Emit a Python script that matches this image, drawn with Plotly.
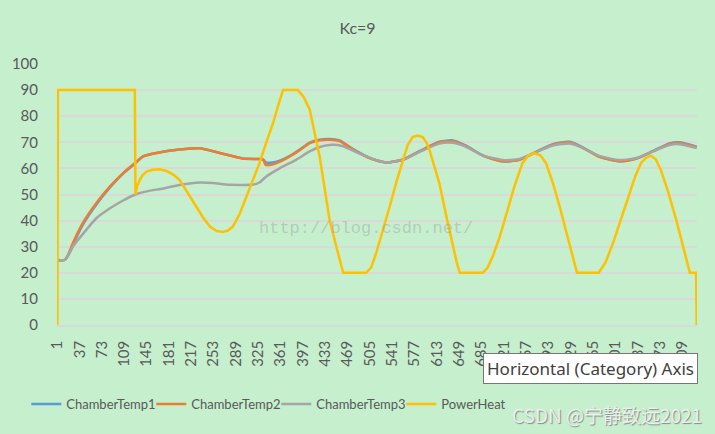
import plotly.graph_objects as go

# category index (x) and value (y)
t1_x = [1, 13, 20, 26, 42, 64, 86, 107, 126, 139, 161, 198, 230, 263, 300, 327, 333, 337, 348,
        362, 376, 392, 408, 424, 440, 456, 478, 504, 531, 558, 585, 617, 639, 660, 687, 719,
        746, 773, 800, 827, 849, 875, 908, 935, 961, 988, 1004, 1032]
t1_y = [24.9, 24.9, 27.3, 30.6, 38.4, 46.2, 52.7, 58.0, 61.8, 64.5, 65.9, 67.2, 67.7, 65.9, 63.8,
        63.6, 63.4, 62.3, 62.3, 63.2, 64.8, 67.2, 69.9, 71.0, 71.3, 70.7, 67.4, 64.1, 62.3,
        63.3, 66.6, 70.2, 70.7, 68.7, 65.0, 62.7, 63.3, 66.3, 69.3, 70.2, 68.0, 64.5, 62.7,
        63.8, 66.6, 69.6, 70.0, 68.3]

t2_x = t1_x
t2_y = [24.9, 24.9, 27.8, 31.3, 39.0, 46.7, 53.1, 58.2, 62.0, 64.6, 65.9, 67.2, 67.7, 65.9, 63.8,
        63.6, 63.4, 61.3, 61.5, 62.8, 64.6, 67.0, 69.7, 70.8, 71.0, 70.5, 67.2, 64.0, 62.3,
        63.3, 66.5, 70.0, 70.4, 68.5, 64.9, 62.7, 63.3, 66.2, 69.1, 70.0, 67.8, 64.4, 62.7,
        63.8, 66.5, 69.4, 69.7, 68.1]

t3_x = [1, 13, 20, 26, 43, 64, 86, 107, 127, 145, 172, 198, 231, 252, 279, 317, 327, 338, 360,
        386, 408, 424, 440, 462, 483, 510, 531, 558, 585, 617, 639, 660, 687, 719, 746, 773,
        800, 827, 849, 875, 908, 935, 961, 988, 1004, 1032]
t3_y = [24.9, 24.9, 27.3, 30.0, 35.1, 40.9, 44.7, 47.7, 50.0, 51.2, 52.3, 53.6, 54.6, 54.4, 53.7,
        53.8, 54.6, 56.9, 60.1, 63.3, 66.5, 68.2, 69.0, 68.5, 66.2, 63.6, 62.3, 63.3, 66.3,
        69.5, 69.8, 68.3, 65.0, 63.2, 63.6, 66.2, 68.8, 69.5, 67.8, 64.8, 63.2, 64.0, 66.5,
        69.0, 69.3, 67.8]

heat_x = [1, 2, 126, 127, 130, 134, 139, 145, 155, 166, 177, 188, 198, 212, 225, 236, 247, 258,
          268, 276, 284, 295, 306, 316, 327, 338, 349, 357, 365, 389, 398, 408, 416, 424, 432,
          440, 451, 462, 499, 507, 515, 526, 537, 548, 558, 566, 574, 582, 590, 596, 601, 609,
          617, 628, 639, 645, 650, 687, 695, 703, 714, 725, 738, 751, 760, 770, 780, 789, 800,
          811, 819, 827, 833, 839, 874, 885, 897, 910, 923, 933, 942, 950, 958, 966, 974, 986,
          999, 1010, 1021, 1031, 1032]
heat_y = [0, 90, 90, 50, 53.5, 55.6, 57.5, 58.8, 59.5, 59.7, 59.0, 57.6, 55.6, 50.5, 45.4, 41.2,
          37.7, 36.0, 35.6, 36.2, 37.7, 42.5, 49.2, 55.5, 62.0, 70.0, 77.4, 84.0, 90, 90, 87.5,
          82.6, 74.0, 64.6, 52.5, 40.3, 30.0, 20, 20, 22.0, 27.4, 36.0, 45.4, 55.0, 63.3, 69.0,
          72.0, 72.6, 72.0, 70.0, 67.2, 61.0, 54.4, 42.0, 30.0, 24.0, 20, 20, 22.0, 26.2, 33.5,
          42.8, 53.0, 62.0, 64.8, 65.9, 65.0, 62.0, 54.5, 45.4, 38.0, 30.5, 25.0, 20, 20, 24.0,
          31.3, 40.5, 50.5, 57.0, 62.0, 64.0, 64.9, 63.5, 59.5, 51.0, 40.3, 30.0, 20, 20, 0]

tick_vals = [1, 37, 73, 109, 145, 181, 217, 253, 289, 325, 361, 397, 433, 469, 505, 541, 577,
             613, 649, 685, 721, 757, 793, 829, 865, 901, 937, 973, 1009]
tick_text = [str(v) for v in tick_vals]

bg = "#C6EFCE"
txt = "#595959"

fig = go.Figure()
fig.add_trace(go.Scatter(x=t1_x, y=t1_y, name="ChamberTemp1", mode="lines",
                         line=dict(color="#5B9BD5", width=2.5, shape="spline", smoothing=0.6)))
fig.add_trace(go.Scatter(x=t2_x, y=t2_y, name="ChamberTemp2", mode="lines",
                         line=dict(color="#ED7D31", width=2.5, shape="spline", smoothing=0.6)))
fig.add_trace(go.Scatter(x=t3_x, y=t3_y, name="ChamberTemp3", mode="lines",
                         line=dict(color="#A5A5A5", width=2.5, shape="spline", smoothing=0.6)))
fig.add_trace(go.Scatter(x=heat_x, y=heat_y, name="PowerHeat", mode="lines",
                         line=dict(color="#FFC000", width=2.5)))

fig.update_layout(
    width=715, height=434,
    paper_bgcolor=bg, plot_bgcolor=bg,
    margin=dict(l=57, r=18, t=64, b=109),
    font=dict(family="Lato", size=15, color=txt),
    title=dict(text="Kc=9", x=0.5, xanchor="center", y=1 - 28 / 434, yanchor="middle",
               yref="container", font=dict(size=16, color=txt)),
    showlegend=True,
    legend=dict(orientation="h", x=-0.048, xanchor="left", y=-0.303, yanchor="middle",
                font=dict(size=13, color=txt), bgcolor="rgba(0,0,0,0)", traceorder="normal",
                entrywidth=80, entrywidthmode="pixels"),
    hovermode=False,
)
fig.update_xaxes(range=[0.5, 1032.5], tickmode="array", tickvals=tick_vals, ticktext=tick_text,
                 tickangle=-90, showgrid=False, zeroline=False, showline=True,
                 linecolor="#D9D9D9", linewidth=1.5, ticks="", ticklabelstandoff=8,
                 tickfont=dict(size=15, color=txt))
fig.update_yaxes(range=[0, 100], dtick=10, showgrid=True, gridcolor="#D9D9D9", gridwidth=1.5,
                 zeroline=False, showline=False, ticks="", ticklabelstandoff=18,
                 tickfont=dict(size=15, color=txt))

# watermarks and the hover tip captured in the screenshot
fig.add_annotation(text="http://blog.csdn.net/", xref="paper", yref="paper",
                   x=(366 - 57) / 640, y=(325 - 228) / 261, showarrow=False,
                   font=dict(family="Liberation Mono", size=17, color="rgba(150,150,150,0.4)"))
fig.add_annotation(text="Horizontal (Category) Axis", xref="paper", yref="paper",
                   x=(483 - 57) / 640, y=(325 - 353) / 261, xanchor="left", yanchor="top",
                   showarrow=False, bgcolor="white", bordercolor="#767676", borderwidth=1,
                   borderpad=3, font=dict(family="Noto Sans", size=17, color="#404040"))
fig.add_annotation(text="CSDN @宁静致远2021", xref="paper", yref="paper",
                   x=(704 - 57) / 640, y=(325 - 414) / 261, xanchor="right", yanchor="middle",
                   showarrow=False,
                   font=dict(family="Noto Sans CJK SC", size=19, color="rgba(245,245,245,0.9)",
                             shadow="1px 1px 1px #808080"))

fig.write_html("out.html", config={"displayModeBar": False},
               post_script="document.body.style.margin='0';")
